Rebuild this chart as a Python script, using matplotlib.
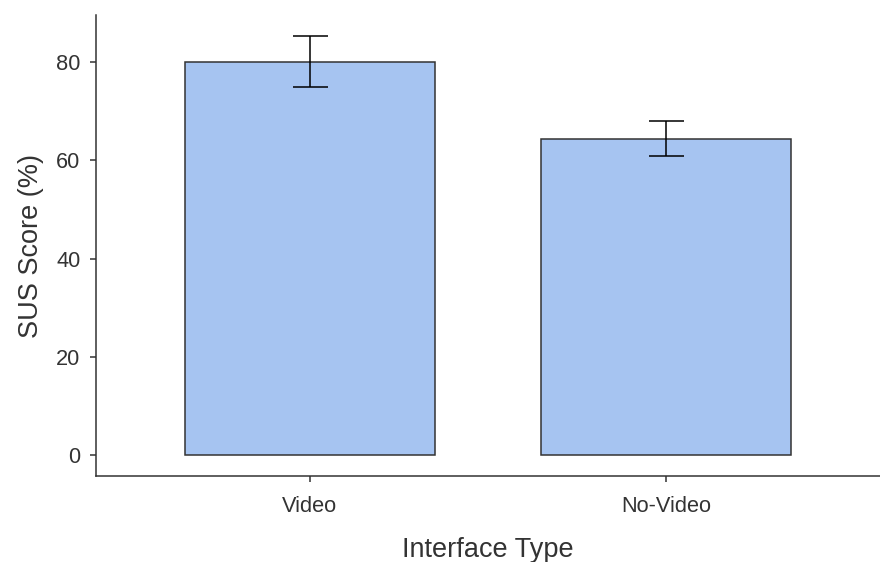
import numpy as np
import matplotlib
matplotlib.use("Agg")
import matplotlib.pyplot as plt

# SUS scores by interface type (mean with error)
categories = ["Video", "No-Video"]
sus_mean = [80.0, 64.4]
err_low = [74.9, 60.9]
err_high = [85.3, 68.1]

plt.rcParams['font.family'] = ['Liberation Sans', 'DejaVu Sans']

fig = plt.figure(figsize=(8.8, 5.62), dpi=100)
ax = fig.add_axes([96 / 880, 1 - 476 / 562, (880 - 96) / 880, (476 - 15) / 562])

x = np.arange(1, len(categories) + 1)
mean = np.array(sus_mean)
yerr = [mean - np.array(err_low), np.array(err_high) - mean]

ax.bar(x, mean, width=0.7, color='#a6c4f1', edgecolor='#333333', linewidth=1.1, zorder=2)
ax.errorbar(x, mean, yerr=yerr, fmt='none', ecolor='black', elinewidth=1.1,
            capsize=12.6, capthick=1.1, zorder=3)

ax.set_xlim(0.4, 2.6)
ax.set_ylim(-4.27, 89.6)
ax.set_xticks(x)
ax.set_xticklabels(categories)
ax.set_yticks([0, 20, 40, 60, 80])

for side in ['top', 'right']:
    ax.spines[side].set_visible(False)
for side in ['left', 'bottom']:
    ax.spines[side].set_color('#333333')
    ax.spines[side].set_linewidth(1.1)

ax.tick_params(axis='both', colors='#333333', length=4.3, width=1.1, labelsize=15.7,
               labelcolor='#333333')
ax.tick_params(axis='x', pad=10)
ax.tick_params(axis='y', pad=7)
ax.set_xlabel('Interface Type', fontsize=19.5, color='#333333', labelpad=14.5)
ax.set_ylabel('SUS Score (%)', fontsize=19.5, color='#333333', labelpad=8.5)

fig.savefig('out.png', dpi=100)
